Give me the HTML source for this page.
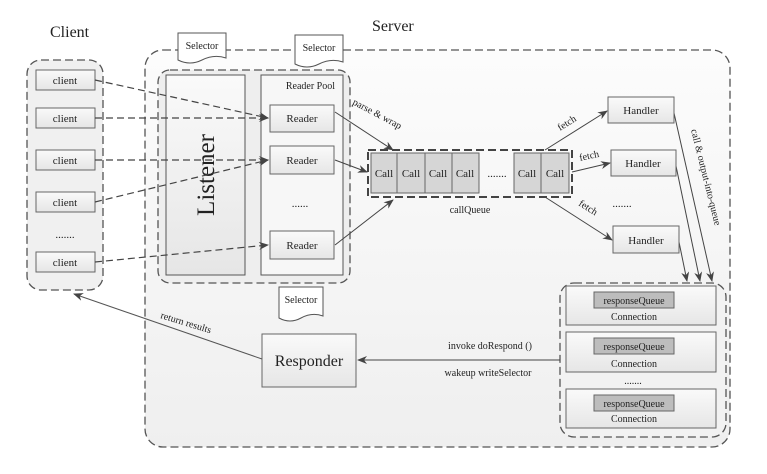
<!DOCTYPE html>
<html><head><meta charset="utf-8"><style>
html,body{margin:0;padding:0;background:#fff;}
svg{display:block;}
text{font-family:"Liberation Serif",serif;fill:#222;}
</style></head><body>
<svg width="767" height="474" viewBox="0 0 767 474" xmlns="http://www.w3.org/2000/svg">
<defs>
<marker id="a" markerWidth="10" markerHeight="8" refX="9" refY="4" orient="auto" markerUnits="userSpaceOnUse">
<path d="M0,0 L10,4 L0,8 L3,4 z" fill="#444"/></marker>
<linearGradient id="g" x1="0" y1="0" x2="0" y2="1"><stop offset="0" stop-color="#fafafa"/><stop offset="1" stop-color="#e6e6e6"/></linearGradient>
<linearGradient id="bg" x1="0" y1="0" x2="0" y2="1"><stop offset="0" stop-color="#fcfcfc"/><stop offset="1" stop-color="#efefef"/></linearGradient>
</defs>
<g fill="none" stroke="#555" stroke-width="1.3" stroke-dasharray="8,4">
<rect x="27" y="60" width="76" height="230" rx="14" fill="#f0f0f0"/>
<rect x="145" y="50" width="585" height="397" rx="18" fill="url(#bg)"/>
<rect x="158" y="70" width="192" height="213" rx="12" fill="#eee"/>
<rect x="560" y="283" width="166" height="154" rx="14" fill="#f2f2f2"/>
</g>
<text x="50" y="37" font-size="16">Client</text>
<text x="372" y="31" font-size="16">Server</text>
<g font-size="11" text-anchor="middle">
<g fill="url(#g)" stroke="#666">
<rect x="36" y="70" width="59" height="20"/><rect x="36" y="108" width="59" height="20"/>
<rect x="36" y="150" width="59" height="20"/><rect x="36" y="192" width="59" height="20"/>
<rect x="36" y="252" width="59" height="20"/>
</g>
<text x="65" y="84">client</text><text x="65" y="122">client</text><text x="65" y="164">client</text><text x="65" y="206">client</text><text x="65" y="266">client</text>
<text x="65" y="238">.......</text>
</g>
<g fill="#fff" stroke="#555">
<path d="M178,33 H226 V58 Q214,54 202,60 Q190,66 178,60 Z"/>
<path d="M295,35 H343 V62 Q331,58 319,64 Q307,70 295,64 Z"/>
<path d="M279,287 H323 V316 Q312,312 301,318 Q290,324 279,318 Z"/>
</g>
<g font-size="10" text-anchor="middle"><text x="202" y="49">Selector</text><text x="319" y="51">Selector</text><text x="301" y="303">Selector</text></g>
<rect x="166" y="75" width="79" height="200" fill="url(#g)" stroke="#555"/>
<text x="0" y="0" font-size="25" text-anchor="middle" transform="translate(214,175) rotate(-90)">Listener</text>
<rect x="261" y="75" width="82" height="200" fill="#f7f7f7" stroke="#555"/>
<text x="335" y="89" font-size="10" text-anchor="end">Reader Pool</text>
<g fill="url(#g)" stroke="#666"><rect x="270" y="105" width="64" height="27"/><rect x="270" y="146" width="64" height="28"/><rect x="270" y="231" width="64" height="28"/></g>
<g font-size="11" text-anchor="middle"><text x="302" y="122">Reader</text><text x="302" y="164">Reader</text><text x="302" y="249">Reader</text><text x="300" y="207">......</text></g>
<g stroke="#444" stroke-width="1.2" stroke-dasharray="7,4" fill="none" marker-end="url(#a)">
<line x1="95" y1="80" x2="268" y2="118"/><line x1="95" y1="118" x2="268" y2="118"/>
<line x1="95" y1="160" x2="268" y2="160"/><line x1="95" y1="202" x2="268" y2="160"/>
<line x1="95" y1="262" x2="268" y2="245"/>
</g>
<rect x="368" y="150" width="204" height="47" fill="none" stroke="#444" stroke-width="2" stroke-dasharray="8,4"/>
<g fill="#d6d6d6" stroke="#666">
<rect x="371" y="153" width="26" height="40"/><rect x="397" y="153" width="28" height="40"/><rect x="425" y="153" width="27" height="40"/><rect x="452" y="153" width="27" height="40"/>
<rect x="514" y="153" width="27" height="40"/><rect x="541" y="153" width="28" height="40"/>
</g>
<g font-size="11" text-anchor="middle"><text x="384" y="177">Call</text><text x="411" y="177">Call</text><text x="438" y="177">Call</text><text x="465" y="177">Call</text><text x="497" y="177">.......</text><text x="527" y="177">Call</text><text x="555" y="177">Call</text>
<text x="470" y="213" font-size="10">callQueue</text></g>
<g stroke="#444" stroke-width="1" fill="none" marker-end="url(#a)">
<line x1="335" y1="112" x2="393" y2="150"/><line x1="335" y1="160" x2="367" y2="172"/><line x1="335" y1="245" x2="393" y2="200"/>
<line x1="545" y1="150" x2="607" y2="111"/><line x1="572" y1="172" x2="610" y2="163"/><line x1="545" y1="197" x2="612" y2="240"/>
<line x1="674" y1="113" x2="712" y2="281"/><line x1="676" y1="166" x2="700" y2="281"/><line x1="679" y1="242" x2="687" y2="281"/>
</g>
<text font-size="10" transform="translate(352,104) rotate(28)">parse &amp; wrap</text>
<text font-size="10" transform="translate(560,131) rotate(-32)">fetch</text>
<text font-size="10" transform="translate(580,161) rotate(-12)">fetch</text>
<text font-size="10" transform="translate(578,205) rotate(32)">fetch</text>
<text font-size="10" transform="translate(691,130) rotate(76)">call &amp; output-into-queue</text>
<g fill="url(#g)" stroke="#666"><rect x="608" y="97" width="66" height="26"/><rect x="611" y="150" width="65" height="26"/><rect x="613" y="226" width="66" height="27"/></g>
<g font-size="11" text-anchor="middle"><text x="641" y="114">Handler</text><text x="643" y="167">Handler</text><text x="646" y="244">Handler</text><text x="622" y="207">.......</text></g>
<g fill="url(#g)" stroke="#666"><rect x="566" y="286" width="150" height="39"/><rect x="566" y="332" width="150" height="40"/><rect x="566" y="389" width="150" height="39"/></g>
<g fill="#bdbdbd" stroke="#666"><rect x="594" y="292" width="80" height="16"/><rect x="594" y="338" width="80" height="16"/><rect x="594" y="395" width="80" height="16"/></g>
<g font-size="10" text-anchor="middle">
<text x="634" y="304">responseQueue</text><text x="634" y="320">Connection</text>
<text x="634" y="350">responseQueue</text><text x="634" y="367">Connection</text>
<text x="634" y="407">responseQueue</text><text x="634" y="422">Connection</text>
<text x="633" y="384">.......</text></g>
<rect x="262" y="334" width="94" height="53" fill="url(#g)" stroke="#666"/>
<text x="309" y="366" font-size="16" text-anchor="middle">Responder</text>
<line x1="560" y1="360" x2="358" y2="360" stroke="#444" marker-end="url(#a)"/>
<text x="490" y="349" font-size="10" text-anchor="middle">invoke doRespond ()</text>
<text x="488" y="376" font-size="10" text-anchor="middle">wakeup writeSelector</text>
<line x1="262" y1="359" x2="74" y2="294" stroke="#555" marker-end="url(#a)"/>
<text font-size="10" transform="translate(160,318) rotate(17)">return results</text>
</svg>
</body></html>
